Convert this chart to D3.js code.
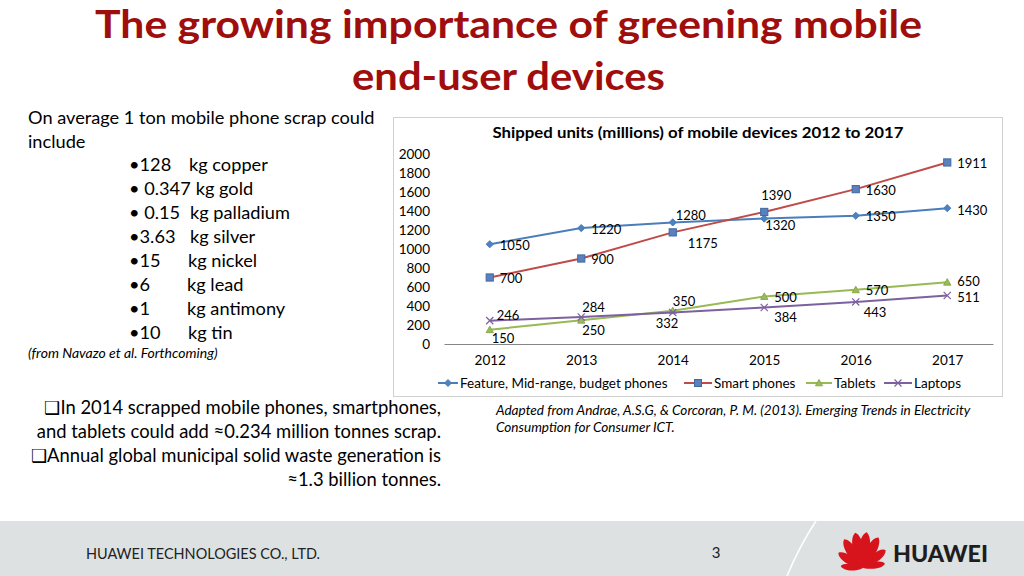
<!DOCTYPE html>
<html><head><meta charset="utf-8">
<script src="https://cdn.jsdelivr.net/npm/d3@7"></script>
<style>body{margin:0;background:#fff} svg{display:block}</style>
</head><body><svg id="c" width="1024" height="576"></svg>
<script>
// ---------- data ----------
const years = [2012, 2013, 2014, 2015, 2016, 2017];
const featurePhones = [1050, 1220, 1280, 1320, 1350, 1430];
const smartPhones = [700, 900, 1175, 1390, 1630, 1911];
const tablets = [150, 250, 350, 500, 570, 650];
const laptops = [246, 284, 332, 384, 443, 511];
const seriesNames = ["Feature, Mid-range, budget phones", "Smart phones", "Tablets", "Laptops"];
const yTicks = [0, 200, 400, 600, 800, 1000, 1200, 1400, 1600, 1800, 2000];
const chartTitle = "Shipped units (millions) of mobile devices 2012 to 2017";

// ---------- styles / layout ----------
const FONT = "Lato, 'Open Sans', sans-serif";
const CF = 13.5; // chart font size
const seriesStyle = [
  {line: "#4A7EBB", fill: "#4F81BD", stroke: "#4A7EBB", marker: "diamond"},
  {line: "#BE4B48", fill: "#5B80BE", stroke: "#3E6AA3", marker: "square"},
  {line: "#98B954", fill: "#9BBB59", stroke: "#8AAA48", marker: "triangle"},
  {line: "#7D60A0", fill: "none", stroke: "#7D60A0", marker: "cross"}
];
// label nudges [dx, dy] relative to point (layout only)
const R = [10, 1];
const labelNudge = [
  [R, R, [3, -7], [1, 7], R, [10, 2]],
  [R, R, [15, 11], [-3, -17], R, R],
  [[2, 9], [1, 10], [0, -9], R, R, [10, -1]],
  [[7, -5], [1, -10], [-17, 11], [10, 10], [8, 11], [10, 2]]
];
const seriesValues = [featurePhones, smartPhones, tablets, laptops];

const svg = d3.select("#c");

// ---------- slide title ----------
const titleLines = ["The growing importance of greening mobile", "end-user devices"];
const titleW = [827, 313];
titleLines.forEach((t, i) => {
  svg.append("text").attr("x", 508.5).attr("y", 38 + i * 52)
    .attr("text-anchor", "middle").attr("font-family", FONT).attr("font-weight", "bold")
    .attr("font-size", 39).attr("fill", "#A00D0D")
    .attr("textLength", titleW[i]).attr("lengthAdjust", "spacingAndGlyphs").text(t);
});

// ---------- left text ----------
const introLines = ["On average 1 ton mobile phone scrap could", "include"];
introLines.forEach((t, i) => {
  svg.append("text").attr("x", 28).attr("y", 124 + i * 24).attr("font-family", FONT)
    .attr("font-size", 18.2).attr("fill", "#000").text(t);
});
const metalAmt = ["•128", "• 0.347", "• 0.15", "•3.63", "•15", "•6", "•1", "•10"];
const metalName = ["kg copper", "kg gold", "kg palladium", "kg silver", "kg nickel", "kg lead", "kg antimony", "kg tin"];
const nameX = [189, 191, 190, 190, 188, 187, 187, 188];
metalAmt.forEach((a, i) => {
  const y = 171 + i * 24;
  const t = svg.append("text").attr("x", 129).attr("y", y).attr("font-family", FONT).attr("font-size", 18.2).text(a);
  const end = 129 + t.node().getComputedTextLength();
  svg.append("text").attr("x", Math.max(nameX[i], end + 5)).attr("y", y).attr("font-family", FONT).attr("font-size", 18.2).text(metalName[i]);
});
svg.append("text").attr("x", 28).attr("y", 358).attr("font-family", FONT).attr("font-style", "italic")
  .attr("font-size", 14).text("(from Navazo et al. Forthcoming)");

const noteLines = ["❑In 2014 scrapped mobile phones, smartphones,", "and tablets could add ≈0.234 million tonnes scrap.",
  "❑Annual global municipal solid waste generation is", "≈1.3 billion tonnes."];
noteLines.forEach((t, i) => {
  svg.append("text").attr("x", 441).attr("y", 414 + i * 24).attr("text-anchor", "end")
    .attr("font-family", FONT).attr("font-size", 18.4).text(t);
});

svg.append("text").attr("x", 496).attr("y", 415).attr("font-family", FONT).attr("font-style", "italic")
  .attr("font-size", 13.6).text("Adapted from Andrae, A.S.G, & Corcoran, P. M. (2013). Emerging Trends in Electricity");
svg.append("text").attr("x", 496).attr("y", 432).attr("font-family", FONT).attr("font-style", "italic")
  .attr("font-size", 13.6).text("Consumption for Consumer ICT.");

// ---------- chart ----------
svg.append("rect").attr("x", 393.5).attr("y", 117.5).attr("width", 609).attr("height", 279)
  .attr("fill", "#fff").attr("stroke", "#D0D0D0");

svg.append("text").attr("x", 698).attr("y", 138).attr("text-anchor", "middle").attr("font-family", FONT)
  .attr("font-weight", "bold").attr("font-size", 15).attr("fill", "#000")
  .attr("textLength", 411).attr("lengthAdjust", "spacingAndGlyphs").text(chartTitle);

const x = d3.scalePoint().domain(years).range([444, 993]).padding(0.5);
const y = d3.scaleLinear().domain([0, 2000]).range([344, 154]);

const yAxis = svg.append("g").attr("transform", "translate(437,0)")
  .call(d3.axisLeft(y).tickValues(yTicks).tickSize(0).tickPadding(7).tickFormat(d3.format("d")));
yAxis.select(".domain").remove();
yAxis.selectAll("text").attr("font-family", FONT).attr("font-size", CF).attr("fill", "#000");

const xAxis = svg.append("g").attr("transform", "translate(0,344)")
  .call(d3.axisBottom(x).tickSize(0).tickPadding(11).tickFormat(d3.format("d")));
xAxis.select(".domain").attr("stroke", "#868686");
xAxis.selectAll("text").attr("font-family", FONT).attr("font-size", CF).attr("fill", "#000");

function marker(g, type, st, cx, cy, s) {
  if (type === "diamond") {
    g.append("path").attr("d", `M${cx},${cy - s}L${cx + s},${cy}L${cx},${cy + s}L${cx - s},${cy}Z`)
      .attr("fill", st.fill).attr("stroke", st.stroke);
  } else if (type === "square") {
    g.append("rect").attr("x", cx - s).attr("y", cy - s).attr("width", 2 * s).attr("height", 2 * s)
      .attr("fill", st.fill).attr("stroke", st.stroke);
  } else if (type === "triangle") {
    g.append("path").attr("d", `M${cx},${cy - s}L${cx + s},${cy + s * 0.8}L${cx - s},${cy + s * 0.8}Z`)
      .attr("fill", st.fill).attr("stroke", st.stroke);
  } else {
    g.append("path").attr("d", `M${cx - s},${cy - s}L${cx + s},${cy + s}M${cx - s},${cy + s}L${cx + s},${cy - s}`)
      .attr("fill", "none").attr("stroke", st.stroke).attr("stroke-width", 1.2);
  }
}

const line = d3.line().x((d, i) => x(years[i])).y(d => y(d));
seriesValues.forEach((vals, si) => {
  const st = seriesStyle[si];
  const g = svg.append("g");
  g.append("path").attr("d", line(vals)).attr("fill", "none").attr("stroke", st.line).attr("stroke-width", 2);
  vals.forEach((v, i) => marker(g, st.marker, st, x(years[i]), y(v), 3.6));
});
seriesValues.forEach((vals, si) => {
  vals.forEach((v, i) => {
    const n = labelNudge[si][i];
    svg.append("text").attr("x", x(years[i]) + n[0]).attr("y", y(v) + n[1]).attr("dy", "0.35em")
      .attr("font-family", FONT).attr("font-size", 13).attr("fill", "#000").text(v);
  });
});

// legend
const legX = [438, 684, 806, 884];
const legLen = [20, 28, 26, 28];
seriesNames.forEach((nm, i) => {
  const st = seriesStyle[i];
  const g = svg.append("g");
  const ly = 383;
  g.append("line").attr("x1", legX[i]).attr("x2", legX[i] + legLen[i]).attr("y1", ly).attr("y2", ly)
    .attr("stroke", st.line).attr("stroke-width", 2);
  marker(g, st.marker, st, legX[i] + legLen[i] / 2, ly, 3.5);
  g.append("text").attr("x", legX[i] + legLen[i] + 2).attr("y", ly).attr("dy", "0.35em")
    .attr("font-family", FONT).attr("font-size", CF).attr("fill", "#000").text(nm);
});

// ---------- footer ----------
svg.append("rect").attr("x", 0).attr("y", 521).attr("width", 1024).attr("height", 55).attr("fill", "#DEE1E2");
svg.append("path").attr("d", "M816,521 Q800,545 787,576").attr("fill", "none").attr("stroke", "#fff").attr("stroke-width", 1.5);
svg.append("text").attr("x", 86).attr("y", 559).attr("font-family", FONT).attr("font-size", 15)
  .attr("fill", "#222").attr("textLength", 234).attr("lengthAdjust", "spacingAndGlyphs").text("HUAWEI TECHNOLOGIES CO., LTD.");
svg.append("text").attr("x", 716).attr("y", 558).attr("text-anchor", "middle").attr("font-family", FONT)
  .attr("font-size", 15).attr("fill", "#222").text("3");

// logo
const logo = svg.append("g").attr("transform", "translate(863,568)");
const petals = [[-82, 0.62], [-55, 0.8], [-30, 0.95], [-9, 1], [9, 1], [30, 0.95], [55, 0.8], [82, 0.62]];
petals.forEach(([a, k]) => {
  const L = 36 * k;
  logo.append("path")
    .attr("d", `M0,0 C${-9 * k},${-L * 0.35} ${-9 * k},${-L * 0.9} ${-2 * k},${-L} C${4 * k},${-L * 0.9} ${6 * k},${-L * 0.45} 0,0 Z`)
    .attr("transform", `rotate(${a})`).attr("fill", "#D7141C");
});
svg.append("text").attr("x", 893).attr("y", 562).attr("font-family", FONT).attr("font-weight", "900")
  .attr("font-size", 22).attr("fill", "#1E1E1E").attr("textLength", 95).attr("lengthAdjust", "spacingAndGlyphs").text("HUAWEI");
</script></body></html>
